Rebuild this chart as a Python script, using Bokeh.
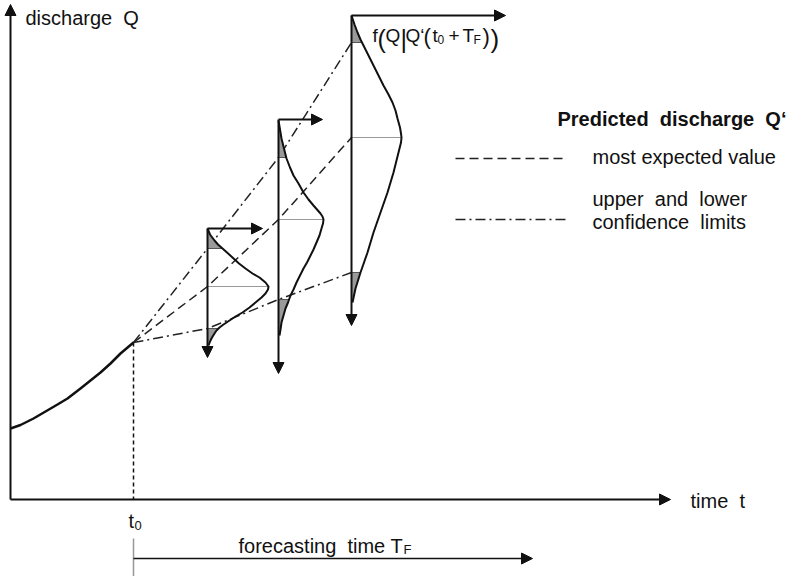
import numpy as np
from bokeh.plotting import figure
from bokeh.models import Range1d, Arrow, NormalHead
from bokeh.core.properties import value
from bokeh.embed import file_html
from bokeh.resources import INLINE

# ---------------- data (chart units: time t, discharge Q) ----------------
hist_t = [0, 10, 23, 35, 47, 57, 70, 80, 90, 100, 110, 123]
hist_q = [71, 74.5, 81, 88, 95, 101, 111, 119, 127, 136, 146, 157]
t0, q0 = 123, 157

t_f = [197, 268, 341]            # forecast times t0 + T_F
q_mean = [213, 280, 362]         # most expected value
q_upper = [251, 342, 457]        # upper confidence limit
q_lower = [171, 200, 227]        # lower confidence limit
q_top = [271, 380, 484]          # top of density axis
q_bottom = [142, 126, 174]       # bottom of density axis
t_dens_tip = [252, 312, 495]     # density axis tip

dens1_q = [271, 265, 259, 255, 251, 247, 242, 236, 231, 226, 222, 217, 213, 210, 206, 202, 197, 192, 187, 183, 179, 175, 172, 169, 166, 162, 159, 154]
dens1_w = [0, 2.5, 7, 10.5, 15, 19.5, 25, 31.5, 38, 45, 52, 58, 61, 60.5, 58, 54, 48, 42, 35, 28, 22, 16, 12, 9, 7, 4.5, 3, 1]
dens2_q = [379, 370, 361, 351, 341, 332, 324, 316, 307, 300, 294, 290, 286, 283, 280, 276, 271, 264, 257, 250, 244, 237, 231, 224, 217, 210, 204, 197, 191, 184, 177, 170, 164]
dens2_w = [0, 1.5, 3, 5.5, 8, 11.5, 15, 20, 25, 30, 35, 38.5, 42, 44, 45, 44.5, 43, 41, 38, 35, 32, 28.5, 25, 21.5, 18, 15, 12, 9.5, 7, 5, 3, 2, 1]
dens3_q = [484, 475, 467, 460, 454, 444, 434, 424, 414, 405, 397, 389, 381, 372, 366, 362, 357, 347, 337, 327, 317, 307, 297, 287, 277, 267, 257, 247, 237, 227, 219, 211, 204, 197]
dens3_w = [0, 3, 6, 9, 12, 17, 22, 27, 32, 37, 41, 44, 46, 48.5, 49.5, 50, 49.5, 47, 44.5, 42, 39, 36, 32.5, 29, 25.5, 22, 19, 16, 12.5, 9, 6.5, 4, 2.5, 1]

dens_q = [dens1_q, dens2_q, dens3_q]
dens_w = [dens1_w, dens2_w, dens3_w]

t_axis_end = 660
q_axis_end = 495
t_forecast_end = 522

FONT = value("Liberation Sans")
INK = "#111111"
NB = "\u00a0"

p = figure(width=795, height=576, x_range=Range1d(-10, 785), y_range=Range1d(-77, 499),
           output_backend="svg", toolbar_location=None, min_border=0)
p.axis.visible = False
p.grid.visible = False
p.outline_line_color = None
p.background_fill_color = "white"
p.border_fill_color = "white"


def arrow(x0, y0, x1, y1, lw=2, size=11, color=INK):
    p.add_layout(Arrow(end=NormalHead(size=size, fill_color=color, line_color=color, line_width=1),
                       x_start=x0, y_start=y0, x_end=x1, y_end=y1,
                       line_color=color, line_width=lw))


# axes
arrow(0, 0, 0, q_axis_end)
arrow(0, 0, t_axis_end, 0)

# t0 marker
p.line([t0, t0], [q0, 0], line_color=INK, line_width=1.5, line_dash="4 3")
p.line([t0, t0], [-39, -77], line_color="#999999", line_width=1.5)
arrow(t0, -59, t_forecast_end, -59, lw=1.5)

# fan lines
p.line([t0] + t_f, [q0] + q_mean, line_color="#222222", line_width=1.5, line_dash="9 5")
p.line([t0] + t_f, [q0] + q_upper, line_color="#222222", line_width=1.5, line_dash="10 4 2 4")
p.line([t0] + t_f, [q0] + q_lower, line_color="#222222", line_width=1.5, line_dash="10 4 2 4")

# densities
for i in range(3):
    q = np.array(dens_q[i], float)
    w = np.array(dens_w[i], float)
    tf = t_f[i]
    wu = np.interp(q_upper[i], q[::-1], w[::-1])
    m = q >= q_upper[i]
    yu = np.concatenate([q[m], [q_upper[i]]])
    xu = np.concatenate([w[m], [wu]])
    p.harea(x1=[tf] * len(yu), x2=list(tf + xu), y=list(yu), fill_color="#9a9a9a")
    wl = np.interp(q_lower[i], q[::-1], w[::-1])
    m = q <= q_lower[i]
    yl = np.concatenate([[q_lower[i]], q[m]])
    xl = np.concatenate([[wl], w[m]])
    p.harea(x1=[tf] * len(yl), x2=list(tf + xl), y=list(yl), fill_color="#9a9a9a")
    p.segment(x0=[tf], y0=[q_upper[i]], x1=[tf + wu], y1=[q_upper[i]], line_color="#555555", line_width=1)
    p.segment(x0=[tf], y0=[q_lower[i]], x1=[tf + wl], y1=[q_lower[i]], line_color="#555555", line_width=1)
    p.segment(x0=[tf], y0=[q_mean[i]], x1=[tf + w.max()], y1=[q_mean[i]], line_color="#999999", line_width=1)
    arrow(tf, q_top[i], tf, q_bottom[i])
    arrow(tf, q_top[i], t_dens_tip[i], q_top[i])
    p.line(list(tf + w), list(q), line_color=INK, line_width=2, line_join="round")

# history
p.line(hist_t, hist_q, line_color=INK, line_width=2.5, line_join="round")

# legend samples
p.line([445, 557], [341, 341], line_color="#222222", line_width=1.5, line_dash="9 5")
p.line([445, 557], [280, 280], line_color="#222222", line_width=1.5, line_dash="10 4 2 4")


def txt(x, y, s, size=20, style="normal"):
    p.text(x=[x], y=[y], text=[s], text_font=FONT, text_font_size=f"{size}px",
           text_font_style=style, text_color=INK, text_baseline="alphabetic", text_align="left")


txt(15, 482, "discharge" + NB + NB + "Q")
txt(680, -1, "time" + NB + NB + "t")
txt(118, -21, "t")
txt(124, -26, "0", 13)
txt(228, -46, "forecasting" + NB + NB + "time T")
txt(393, -50, "F", 13)

txt(547, 381, "Predicted" + NB + NB + "discharge" + NB + NB + "Q\u2018", 20, "bold")
txt(582, 343, "most expected value")
txt(582, 301, "upper" + NB + NB + "and" + NB + NB + "lower")
txt(582, 278, "confidence" + NB + NB + "limits")

# formula f(Q|Q'(t0 + TF))
fx = [362, 367, 375, 390, 395, 413, 422, 427, 438, 452, 463, 472, 480]
fs = ["f", "(", "Q", "|", "Q\u2018", "(", "t", "0", "+", "T", "F", ")", ")"]
fz = [19, 25, 19, 25, 19, 22, 19, 12, 19, 19, 12, 22, 26]
fy = [464, 461, 464, 461, 464, 463, 464, 460, 464, 464, 460, 463, 461]
for x, s, z, y in zip(fx, fs, fz, fy):
    txt(x, y, s, z)

open("out.html", "w").write(file_html(p, INLINE))
